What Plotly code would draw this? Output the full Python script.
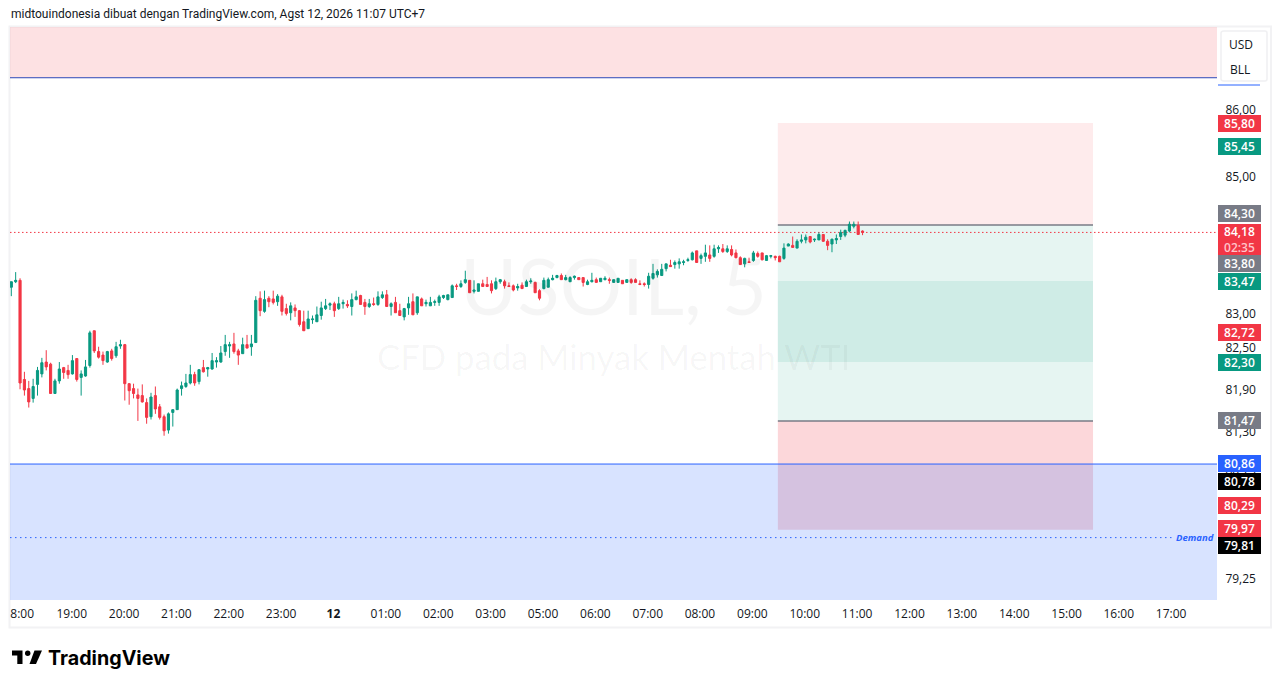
import math
import plotly.graph_objects as go

opens = [83.38,83.46,83.48,82.05,81.92,81.78,81.98,82.13,82.30,82.27,
81.85,82.03,82.22,82.18,82.13,82.35,82.08,82.10,82.25,82.75,
82.45,82.40,82.30,82.46,82.39,82.53,82.55,81.99,81.92,81.83,
81.82,81.72,81.52,81.82,81.66,81.52,81.33,81.58,81.62,81.92,
81.95,82.00,82.12,82.02,82.22,82.20,82.20,82.30,82.30,82.45,
82.53,82.56,82.46,82.42,82.55,82.52,82.58,83.22,83.03,83.22,
83.21,83.17,83.24,83.07,83.01,83.08,83.04,82.88,82.78,82.91,
82.88,82.97,83.07,83.12,83.14,83.07,83.14,83.13,83.10,83.20,
83.26,83.16,83.10,83.14,83.13,83.23,83.27,83.10,83.16,83.04,
82.95,83.08,83.17,83.01,83.21,83.14,83.11,83.16,83.16,83.23,
83.20,83.23,83.40,83.39,83.45,83.48,83.32,83.32,83.43,83.42,
83.43,83.36,83.46,83.46,83.40,83.40,83.37,83.41,83.39,83.46,
83.45,83.33,83.36,83.38,83.49,83.52,83.55,83.49,83.46,83.52,
83.52,83.52,83.42,83.46,83.49,83.46,83.49,83.49,83.45,83.45,
83.48,83.45,83.49,83.49,83.43,83.43,83.42,83.51,83.56,83.55,
83.65,83.70,83.71,83.72,83.74,83.77,83.78,83.91,83.80,83.83,
83.85,83.83,83.94,83.94,83.90,83.93,83.88,83.81,83.72,83.75,
83.77,83.87,83.88,83.77,83.83,83.83,83.83,83.80,83.98,83.99,
83.95,84.05,84.07,84.12,84.07,84.07,84.15,84.05,84.01,84.07,
84.12,84.14,84.20,84.27,84.28,84.20]

highs = [83.46,83.60,83.51,82.16,82.03,82.06,82.23,82.36,82.47,82.29,
82.06,82.30,82.23,82.26,82.40,82.35,82.18,82.33,82.75,82.75,
82.52,82.45,82.46,82.49,82.59,82.62,82.56,82.00,81.99,81.92,
81.98,81.78,81.86,81.95,81.70,81.55,81.58,81.62,81.92,82.02,
82.13,82.26,82.16,82.20,82.33,82.23,82.43,82.37,82.53,82.69,
82.59,82.72,82.49,82.65,82.69,82.69,83.25,83.32,83.33,83.25,
83.33,83.28,83.27,83.14,83.16,83.13,83.05,83.04,83.04,82.97,
83.10,83.17,83.21,83.16,83.17,83.24,83.20,83.19,83.29,83.33,
83.27,83.21,83.21,83.23,83.32,83.32,83.34,83.16,83.24,83.14,
83.08,83.24,83.29,83.24,83.23,83.20,83.24,83.20,83.27,83.27,
83.27,83.42,83.43,83.48,83.62,83.48,83.48,83.43,83.49,83.53,
83.48,83.52,83.50,83.49,83.45,83.42,83.43,83.45,83.49,83.51,
83.46,83.35,83.52,83.52,83.56,83.56,83.58,83.56,83.54,83.55,
83.52,83.52,83.49,83.59,83.52,83.51,83.54,83.52,83.49,83.51,
83.48,83.49,83.51,83.51,83.48,83.45,83.59,83.72,83.64,83.72,
83.72,83.78,83.77,83.80,83.78,83.81,83.90,83.91,83.87,84.00,
83.99,84.00,83.99,84.01,83.99,83.99,83.93,83.83,83.81,83.81,
83.91,83.90,83.88,83.85,83.85,83.84,83.84,84.02,84.02,84.12,
84.08,84.15,84.15,84.12,84.09,84.18,84.15,84.08,84.09,84.15,
84.22,84.22,84.34,84.34,84.34,84.21]

lows = [83.25,83.44,81.91,81.82,81.65,81.72,81.82,82.08,82.18,81.85,
81.85,81.99,82.06,82.06,82.12,82.02,81.82,82.09,82.22,82.43,
82.35,82.26,82.29,82.32,82.36,82.49,81.75,81.69,81.78,81.46,
81.72,81.42,81.48,81.56,81.48,81.25,81.28,81.38,81.62,81.82,
81.93,81.98,81.96,81.98,82.15,82.09,82.19,82.22,82.29,82.39,
82.36,82.42,82.26,82.42,82.50,82.39,82.58,82.96,83.01,83.09,
83.13,83.11,82.97,82.97,82.90,82.95,82.81,82.75,82.78,82.85,
82.88,82.91,83.05,83.05,82.95,83.05,83.07,83.08,82.97,83.19,
83.13,82.98,83.08,83.11,83.11,83.21,83.10,82.97,83.01,82.97,
82.90,82.98,82.98,82.98,83.11,83.10,83.11,83.11,83.11,83.21,
83.19,83.23,83.34,83.37,83.43,83.30,83.29,83.32,83.39,83.39,
83.29,83.34,83.43,83.36,83.39,83.32,83.33,83.36,83.39,83.43,
83.30,83.19,83.35,83.38,83.48,83.51,83.49,83.48,83.46,83.49,
83.49,83.39,83.41,83.45,83.45,83.46,83.48,83.43,83.45,83.45,
83.43,83.45,83.43,83.45,83.41,83.39,83.36,83.49,83.52,83.55,
83.61,83.68,83.65,83.65,83.70,83.75,83.77,83.74,83.72,83.75,
83.75,83.81,83.88,83.88,83.88,83.83,83.80,83.71,83.67,83.74,
83.75,83.81,83.77,83.77,83.80,83.77,83.75,83.78,83.98,83.96,
83.95,84.02,84.02,84.02,84.04,84.07,84.04,83.92,83.89,84.01,
84.07,84.11,84.18,84.24,84.15,84.14]

closes = [83.46,83.48,82.00,81.90,81.73,81.95,82.18,82.29,82.23,81.85,
82.03,82.20,82.15,82.12,82.32,82.05,82.13,82.23,82.72,82.46,
82.37,82.32,82.45,82.35,82.52,82.55,81.99,81.89,81.85,81.78,
81.73,81.51,81.80,81.63,81.51,81.32,81.56,81.62,81.90,81.96,
82.00,82.12,82.00,82.19,82.16,82.22,82.32,82.32,82.43,82.55,
82.55,82.45,82.40,82.55,82.50,82.56,83.19,83.04,83.20,83.17,
83.16,83.25,83.03,83.00,83.11,83.04,82.84,82.75,82.92,82.92,
82.98,83.08,83.11,83.14,83.04,83.14,83.16,83.11,83.20,83.24,
83.13,83.10,83.14,83.13,83.24,83.27,83.10,83.14,83.01,82.97,
83.07,83.14,82.98,83.24,83.11,83.16,83.16,83.17,83.24,83.26,
83.27,83.40,83.39,83.43,83.49,83.30,83.34,83.43,83.39,83.39,
83.33,83.46,83.49,83.40,83.39,83.34,83.39,83.36,83.46,83.47,
83.30,83.22,83.48,83.49,83.51,83.55,83.49,83.52,83.52,83.54,
83.49,83.45,83.46,83.48,83.45,83.51,83.51,83.48,83.49,83.51,
83.43,83.49,83.45,83.45,83.42,83.42,83.54,83.58,83.61,83.64,
83.72,83.68,83.74,83.75,83.75,83.78,83.88,83.74,83.84,83.88,
83.80,83.94,83.96,83.90,83.94,83.85,83.81,83.71,83.80,83.74,
83.88,83.83,83.78,83.84,83.84,83.81,83.75,83.95,84.01,83.96,
84.05,84.07,84.11,84.04,84.08,84.15,84.05,83.99,84.08,84.09,
84.18,84.21,84.30,84.30,84.15,84.18]

x_tick_bars = [2.5,13.85,25.85,37.8,49.8,61.8,73.8,85.8,97.8,109.8,121.8,133.8,145.8,157.75,169.75,181.75,193.75,205.75,217.75,229.75,241.75,253.7,265.7]
x_tick_text = ["8:00","19:00","20:00","21:00","22:00","23:00","<b>12</b>","01:00","02:00","03:00","05:00","06:00",
               "07:00","08:00","09:00","10:00","11:00","12:00","13:00","14:00","15:00","16:00","17:00"]
y_ticks = [86.0,85.5,85.0,84.5,84.0,83.5,83.0,82.5,81.9,81.3,80.75,80.25,79.75,79.25]
y_tick_text = ["86,00","85,50","85,00","84,50","84,00","83,50","83,00","82,50","81,90","81,30","80,75","80,25","79,75","79,25"]

label_values = [85.80,85.45,84.30,83.80,83.47,82.72,82.30,81.47,80.86,80.78,80.29,79.97,79.81]
label_texts = ["85,80","85,45","84,30","83,80","83,47","82,72","82,30","81,47","80,86","80,78","80,29","79,97","79,81"]
last_price = 84.18
last_text = "84,18"
countdown = "02:35"

zone_supply_edge = 86.48
zone_demand_edge = 80.85
demand_level = 79.82
pos_target_top = 85.80
pos_entry = 84.29
pos_band_top = 83.47
pos_band_bottom = 82.30
pos_stop = 81.46
pos_bottom = 79.93

# ---- styling / layout ----
RED, GREEN, GREY, BLUE, BLACK = "#f23645", "#089981", "#787b86", "#2962ff", "#000000"
label_colors = [RED,GREEN,GREY,GREY,GREEN,RED,GREEN,GREY,BLUE,BLACK,RED,RED,BLACK]
label_shifts = [0,0,10.5,-5.3,0,0,0,0,0,-12.7,-1.5,-2,-7.5]

W, H, L, R, T, B = 1281, 688, 10, 64, 27, 88
PW, PH = W - L - R, H - T - B
px = lambda v: (v - L) / PW
py = lambda v: (T + PH - v) / PH
Y_MIN, Y_MAX = 78.957, 87.248
X_MIN, X_MAX = -0.3, 276.2
BAR_L, BAR_R = 175.6, 247.8

fig = go.Figure(go.Candlestick(
    x=list(range(len(opens))), open=opens, high=highs, low=lows, close=closes,
    increasing=dict(line=dict(color=GREEN, width=1), fillcolor=GREEN),
    decreasing=dict(line=dict(color=RED, width=1), fillcolor=RED),
    whiskerwidth=0, hoverinfo="skip", showlegend=False))

def band(y0, y1, fill, x0=X_MIN, x1=X_MAX):
    return dict(type="rect", xref="x", yref="y", x0=x0, x1=x1, y0=y0, y1=y1, fillcolor=fill, line_width=0, layer="below")

def hline(y, color, width=1, dash="solid", x0=X_MIN, x1=X_MAX):
    return dict(type="line", xref="x", yref="y", x0=x0, x1=x1, y0=y, y1=y,
                line=dict(color=color, width=width, dash=dash), layer="below")

shapes = [
    dict(type="rect", xref="paper", yref="paper", x0=px(9.5), x1=px(1271), y0=py(26.5), y1=py(627.5),
         line=dict(color="#f2f2f4", width=2), fillcolor="rgba(0,0,0,0)", layer="below"),
    band(zone_supply_edge, Y_MAX, "rgba(242,54,69,0.15)"),
    band(pos_entry, pos_target_top, "rgba(242,54,69,0.10)", BAR_L, BAR_R),
    band(pos_stop, pos_entry, "rgba(8,153,129,0.10)", BAR_L, BAR_R),
    band(pos_band_bottom, pos_band_top, "rgba(8,153,129,0.10)", BAR_L, BAR_R),
    band(pos_bottom, pos_stop, "rgba(242,54,69,0.20)", BAR_L, BAR_R),
    band(Y_MIN, zone_demand_edge, "rgba(41,98,255,0.18)"),
    hline(zone_supply_edge, "#2c47b8"),
    hline(zone_demand_edge, BLUE),
    hline(pos_entry, GREY, 1.5, "solid", BAR_L, BAR_R),
    hline(pos_stop, GREY, 1.5, "solid", BAR_L, BAR_R),
    hline(last_price, RED, 1, "1.5px,2.5px"),
    hline(demand_level, BLUE, 1, "1.5px,3.5px", X_MIN, 266.0),
    # USD / BLL box and the line beneath it
    dict(type="line", xref="paper", yref="paper", x0=px(1218), x1=px(1260), y0=py(85), y1=py(85),
         line=dict(color=BLUE, width=1)),
    dict(type="path", xref="paper", yref="paper", fillcolor="#ffffff", line=dict(color="#f0f0f2", width=1.5),
         path=(f"M{px(1224)},{py(31)} L{px(1265)},{py(31)} Q{px(1267)},{py(31)} {px(1267)},{py(33)} "
               f"L{px(1267)},{py(79)} Q{px(1267)},{py(81)} {px(1265)},{py(81)} L{px(1224)},{py(81)} "
               f"Q{px(1221)},{py(81)} {px(1221)},{py(79)} L{px(1221)},{py(33)} Q{px(1221)},{py(31)} {px(1224)},{py(31)} Z")),
    # TradingView logo
    dict(type="path", xref="paper", yref="paper", fillcolor="#000000", line_width=0,
         path=(f"M{px(12)},{py(650.5)} L{px(22.5)},{py(650.5)} L{px(22.5)},{py(664)} L{px(17.3)},{py(664)} "
               f"L{px(17.3)},{py(655.5)} L{px(12)},{py(655.5)} Z")),
    dict(type="circle", xref="paper", yref="paper", fillcolor="#000000", line_width=0,
         x0=px(25), x1=px(30.4), y0=py(650.5), y1=py(655.9)),
    dict(type="path", xref="paper", yref="paper", fillcolor="#000000", line_width=0,
         path=f"M{px(34.5)},{py(650.5)} L{px(42)},{py(650.5)} L{px(36)},{py(664)} L{px(29.5)},{py(664)} Z"),
]

annotations = [
    dict(text="USOIL, 5", xref="paper", yref="paper", x=px(613), y=py(285), xanchor="center", yanchor="middle", showarrow=False,
         font=dict(family="Lato", size=78, color="rgba(0,0,0,0.04)")),
    dict(text="CFD pada Minyak Mentah WTI", xref="paper", yref="paper", x=px(613), y=py(356), xanchor="center", yanchor="middle", showarrow=False,
         font=dict(family="Lato", size=34.7, color="rgba(0,0,0,0.04)")),
    dict(text="midtouindonesia dibuat dengan TradingView.com, Agst 12, 2026 11:07 UTC+7", xref="paper", yref="paper",
         x=px(9), y=py(14), xanchor="left", yanchor="middle", showarrow=False,
         font=dict(family="Roboto", size=12, color="#131722")),
    dict(text="<b>TradingView</b>", xref="paper", yref="paper", x=px(45.5), y=py(658), xanchor="left", yanchor="middle",
         showarrow=False, font=dict(family="Inter", size=19.7, color="#000000")),
    dict(text="USD", xref="paper", yref="paper", x=px(1240.5), y=py(44), xanchor="center", yanchor="middle", showarrow=False,
         font=dict(family="Open Sans", size=12, color="#131722")),
    dict(text="BLL", xref="paper", yref="paper", x=px(1239.5), y=py(70), xanchor="center", yanchor="middle", showarrow=False,
         font=dict(family="Open Sans", size=12, color="#131722")),
    dict(text="Demand", xref="paper", yref="y", x=px(1216), y=math.log10(demand_level), xanchor="right", yanchor="middle",
         showarrow=False, font=dict(family="Open Sans", size=9.5, color=BLUE, style="italic", weight="bold")),
]

def price_box(value, text, color, shift=0, height=17):
    return dict(text=text, xref="paper", yref="y", x=px(1239.5), y=math.log10(value), yshift=shift,
                xanchor="center", yanchor="middle", showarrow=False, width=43, height=height,
                bgcolor=color, borderpad=0, borderwidth=0, align="center", valign="middle",
                font=dict(family="Open Sans", size=12, color="#ffffff", weight=600))

for v, t, c, s in zip(label_values, label_texts, label_colors, label_shifts):
    annotations.append(price_box(v, t, c, s))
annotations.append(price_box(last_price, f"{last_text}<br><span style='color:#ffc4c9'>{countdown}</span>", RED, -7.5, 31))

fig.update_layout(
    width=W, height=H, autosize=False, margin=dict(l=L, r=R, t=T, b=B),
    paper_bgcolor="#ffffff", plot_bgcolor="#ffffff", showlegend=False,
    font=dict(family="Open Sans", size=12, color="#131722"),
    shapes=shapes, annotations=annotations,
    xaxis=dict(range=[X_MIN, X_MAX], tickmode="array", tickvals=x_tick_bars, ticktext=x_tick_text,
               showgrid=False, zeroline=False, showline=False, ticks="outside", ticklen=3, tickcolor="rgba(0,0,0,0)",
               tickangle=0, rangeslider=dict(visible=False), tickfont=dict(family="Open Sans", size=12, color="#131722")),
    yaxis=dict(type="log", side="right", range=[math.log10(Y_MIN), math.log10(Y_MAX)], tickmode="array",
               tickvals=y_ticks, ticktext=y_tick_text, showgrid=False, zeroline=False, showline=False,
               ticks="outside", ticklen=5, tickcolor="rgba(0,0,0,0)",
               tickfont=dict(family="Open Sans", size=12, color="#131722")),
)

fig.write_html("out.html", config=dict(displayModeBar=False),
               post_script="document.body.style.margin='0';document.body.style.overflow='hidden';")
